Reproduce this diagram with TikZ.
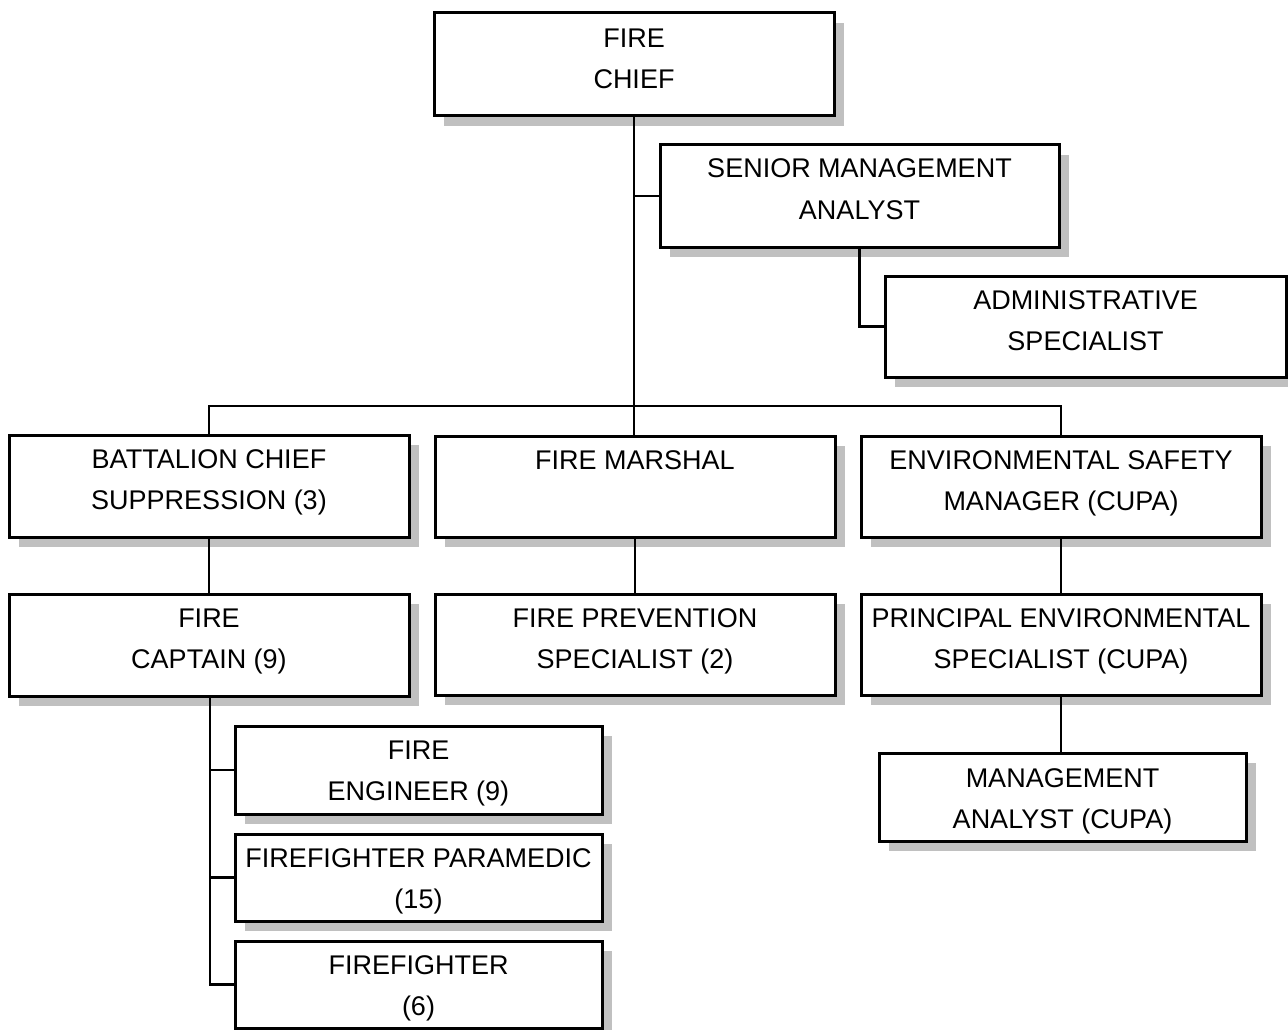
\documentclass[tikz,border=0pt]{standalone}
\usepackage{fontspec}
\setmainfont{Liberation Sans}
\usetikzlibrary{calc}
\definecolor{shadowgray}{HTML}{C0C0C0}
\tikzset{
  orgbox/.style={draw=black, line width=3pt, fill=white, rectangle, inner sep=0pt, outer sep=0pt},
  lbl/.style={font=\fontsize{27}{41}\selectfont, inner sep=0pt, text=black},
  conn/.style={draw=black, line width=2.6pt},
}
% name, x1, y1, x2, y2, first-line offset, line1, line2
\newcommand\orgunit[8]{%
  \fill[shadowgray] (#2+10,#3+10) rectangle (#4+10,#5+10);
  \node[orgbox, minimum width={#4-#2}, minimum height={#5-#3}] (#1) at ({(#2+#4)/2},{(#3+#5)/2}) {};
  \node[lbl, anchor=base] (#1-a) at ($(#1.north)+(0,#6)$) {#7};
  \node[lbl, anchor=base] (#1-b) at ($(#1.north)+(0,#6+41)$) {#8};
}
\begin{document}
\begin{tikzpicture}[x=1pt, y=-1pt]
\useasboundingbox[fill=white] (0,0) rectangle (1288,1030);
% connectors first (behind boxes)
\coordinate (bar) at (634,406);
\orgunit{chief}{434}{13}{834}{116}{35}{FIRE}{CHIEF}
\orgunit{senior}{660}{145}{1059}{247}{33}{SENIOR MANAGEMENT}{ANALYST}
\orgunit{admin}{885}{276}{1286}{377}{33}{ADMINISTRATIVE}{SPECIALIST}
\orgunit{batt}{9}{435}{409}{537}{33}{BATTALION CHIEF}{SUPPRESSION (3)}
\orgunit{marshal}{435}{436}{835}{537}{33}{FIRE MARSHAL}{}
\orgunit{env}{861}{436}{1261}{537}{33}{ENVIRONMENTAL SAFETY}{MANAGER (CUPA)}
\orgunit{capt}{9}{594}{409}{696}{33}{FIRE}{CAPTAIN (9)}
\orgunit{prev}{435}{594}{835}{695}{33}{FIRE PREVENTION}{SPECIALIST (2)}
\orgunit{princ}{861}{594}{1261}{695}{33}{PRINCIPAL ENVIRONMENTAL}{SPECIALIST (CUPA)}
\orgunit{eng}{235}{726}{602}{814}{33}{FIRE}{ENGINEER (9)}
\orgunit{para}{235}{834}{602}{921}{33}{FIREFIGHTER PARAMEDIC}{(15)}
\orgunit{ff}{235}{941}{602}{1028}{33}{FIREFIGHTER}{(6)}
\orgunit{mgmt}{879}{753}{1246}{841}{34}{MANAGEMENT}{ANALYST (CUPA)}
% connectors
\draw[conn] (chief.south) -- (bar);
\draw[conn] (senior.west) -- (senior.west -| chief.south);
\draw[conn] (senior.south) |- (admin.west);
\draw[conn] (batt.north) |- (bar) -| (env.north);
\draw[conn] (bar) -- (bar |- marshal.north);
\draw[conn] (batt.south) -- (capt.north);
\draw[conn] (marshal.south) -- (prev.north);
\draw[conn] (env.south) -- (princ.north);
\draw[conn] (princ.south) -- (princ.south |- mgmt.north);
\coordinate (trunk) at ($(capt.south)+(1,0)$);
\draw[conn] (trunk) |- (ff.west);
\draw[conn] (trunk |- eng.west) -- (eng.west);
\draw[conn] (trunk |- para.west) -- (para.west);
\end{tikzpicture}
\end{document}
